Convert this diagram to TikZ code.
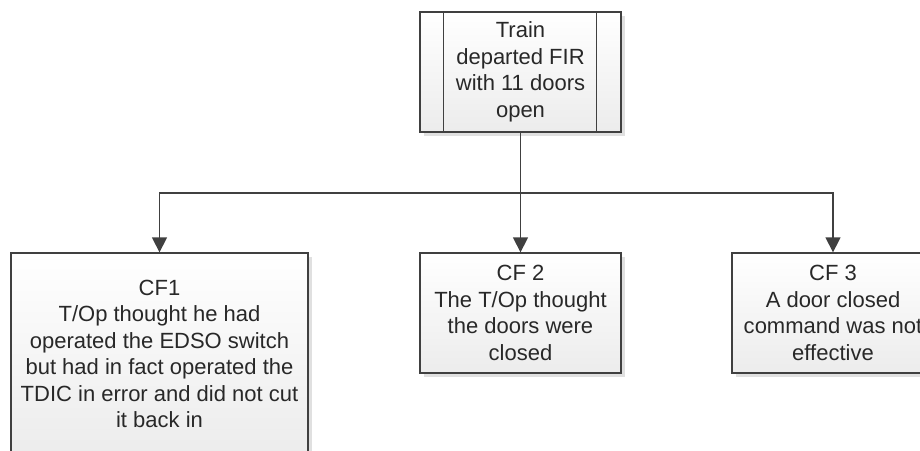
\documentclass[tikz,border=0pt]{standalone}
\usepackage{fontspec}
\setmainfont{Liberation Sans}
\usetikzlibrary{arrows.meta,shadows}

\begin{document}
\begin{tikzpicture}[x=1pt,y=-1pt,
  factor/.style={draw=linecolor,line width=1.3pt,top color=white,bottom color=boxbottom,
    drop shadow={shadow xshift=4pt,shadow yshift=-4pt,fill=black,opacity=0.12},
    text=textcolor,align=center,inner sep=0pt,font=\fontsize{22}{26.5}\selectfont},
  link/.style={draw=linecolor,line width=1.3pt},
  arrow/.style={link,-{Triangle[width=15pt,length=15pt]}}]
\definecolor{linecolor}{RGB}{64,64,64}
\definecolor{textcolor}{RGB}{40,40,40}
\definecolor{boxbottom}{RGB}{236,236,236}
\useasboundingbox (0,0) rectangle (920,450);
\clip (0,0) rectangle (920,450);
\node [factor,minimum width=201pt,minimum height=120pt] (departed) at (520.5,72)
  {Train\\departed FIR\\with 11 doors\\open};
\draw [link] ([xshift=24pt]departed.north west) -- ([xshift=24pt]departed.south west);
\draw [link] ([xshift=-25pt]departed.north east) -- ([xshift=-25pt]departed.south east);
\node [factor,minimum width=297pt,minimum height=202pt] (cf1) at (159.5,354)
  {CF1\\T/Op thought he had\\operated the EDSO switch\\but had in fact operated the\\TDIC in error and did not cut\\it back in};
\node [factor,minimum width=201pt,minimum height=120pt] (cf2) at (520.5,313)
  {CF 2\\The T/Op thought\\the doors were\\closed};
\node [factor,minimum width=202pt,minimum height=120pt] (cf3) at (833,313)
  {CF 3\\A door closed\\command was not\\effective};
\coordinate (split) at (520.5,193);
\draw [link] (departed.south) -- (split);
\draw [arrow] (split) -| (cf1.north);
\draw [arrow] (split) -- (cf2.north);
\draw [arrow] (split) -| (cf3.north);
\end{tikzpicture}
\end{document}
